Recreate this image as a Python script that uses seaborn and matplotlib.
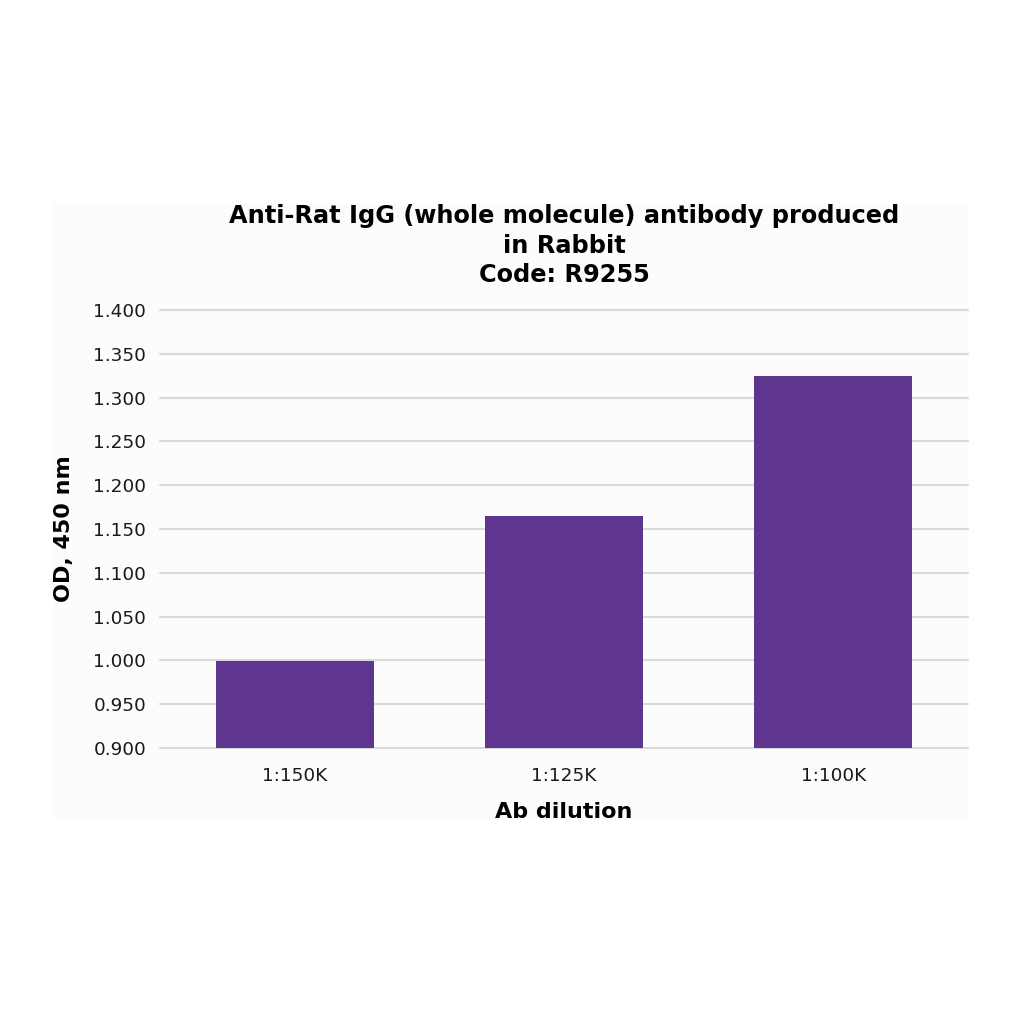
import matplotlib
matplotlib.use("Agg")
import matplotlib.pyplot as plt
import seaborn as sns
import pandas as pd
from matplotlib.patches import Rectangle

dilutions = ["1:150K", "1:125K", "1:100K"]
od_values = [0.999, 1.165, 1.325]
y_ticks = [0.900, 0.950, 1.000, 1.050, 1.100, 1.150, 1.200, 1.250, 1.300, 1.350, 1.400]

df = pd.DataFrame({"dilution": dilutions, "od": od_values})

sns.set_theme(style="white")
plt.rcParams['font.family'] = ['DejaVu Sans']
plt.rcParams['text.color'] = 'black'
plt.rcParams['axes.labelcolor'] = 'black'

fig = plt.figure(figsize=(10.24, 10.24), dpi=100)
fig.patch.set_facecolor("white")
fig.patches.append(Rectangle((53/1024, 1-820/1024), (968-53)/1024, (820-203)/1024,
                             transform=fig.transFigure, facecolor="#FCFCFC",
                             edgecolor="none", zorder=-10))

ax = fig.add_axes([160/1024, 1-748/1024, 808/1024, 438/1024])
ax.set_facecolor("none")
sns.barplot(data=df, x="dilution", y="od", color="#5E358F", width=0.587,
            saturation=1, linewidth=0, edgecolor="none", ax=ax, zorder=3)
ax.set_ylim(0.9, 1.4)
ax.set_xlim(-0.5, 2.5)
ax.set_yticks(y_ticks)
ax.set_yticklabels([f"{v:.3f}" for v in y_ticks])
ax.grid(axis="y", color="#D9D9D9", linewidth=1.5, zorder=0)
ax.set_axisbelow(True)
for gl in ax.get_ygridlines():
    gl.set_clip_on(False)
for s in ax.spines.values():
    s.set_visible(False)
ax.tick_params(axis="both", length=0, labelsize=13.3, colors="#1a1a1a", pad=10)
ax.tick_params(axis="x", pad=14)
ax.set_xlabel("Ab dilution", fontsize=16, fontweight="bold", labelpad=12, color="black")
ax.set_ylabel("OD, 450 nm", fontsize=16, fontweight="bold", labelpad=14, color="black")
ax.set_title("Anti-Rat IgG (whole molecule) antibody produced\nin Rabbit\nCode: R9255",
             fontsize=17.3, fontweight="bold", pad=20, linespacing=1.3, color="black")

fig.savefig("out.png", dpi=100)
